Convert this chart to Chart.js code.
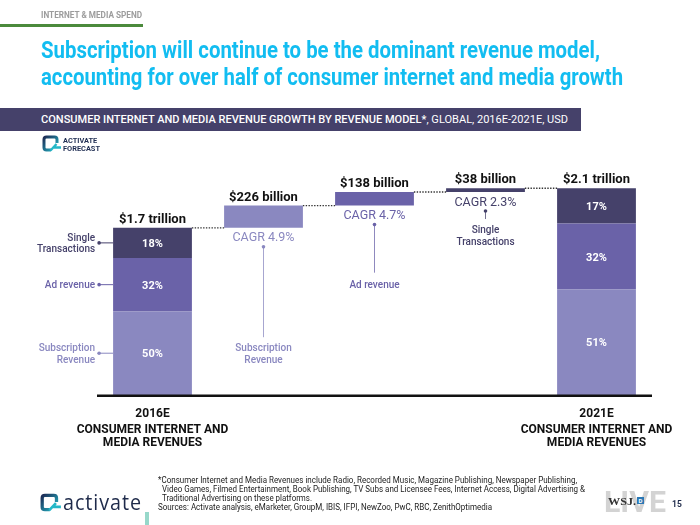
<!DOCTYPE html>
<html>
<head>
<meta charset="utf-8">
<script src="https://cdn.jsdelivr.net/npm/chart.js@4.4.1/dist/chart.umd.min.js"></script>
<style>
  html, body { margin: 0; padding: 0; background: #fff; }
  #page { position: relative; width: 700px; height: 525px; overflow: hidden; font-family: Roboto, sans-serif; }
  #wrap { position: absolute; left: 0; top: 0; width: 700px; height: 525px; }
  .abs { position: absolute; white-space: nowrap; transform-origin: 0 0; z-index: 2; }
  .foot { font: 400 8.4px Roboto; color: #222; line-height: 9px; }
</style>
</head>
<body>
<div id="page">
  <div id="wrap"><canvas id="waterfall"></canvas></div>

  <div class="abs fit" data-w="101" style="left:41px; top:10px; font:700 9px Roboto; color:#9c9c9c;">INTERNET &amp; MEDIA SPEND</div>
  <div class="abs" style="left:0; top:24px; width:143px; height:2.5px; background:#4b8a3c;"></div>

  <div class="abs fit" data-w="559" style="left:41px; top:36px; font:700 24px Roboto; color:#12bdf1;">Subscription will continue to be the dominant revenue model,</div>
  <div class="abs fit" data-w="582" style="left:41px; top:63px; font:700 24px Roboto; color:#12bdf1;">accounting for over half of consumer internet and media growth</div>

  <div class="abs" style="left:0; top:108px; width:581px; height:23px; background:#45416a; z-index:1;"></div>
  <div class="abs fit" data-w="527" style="left:41px; top:113px; font:11px Roboto; color:#fff;"><span style="font-weight:500">CONSUMER INTERNET AND MEDIA REVENUE GROWTH BY REVENUE MODEL*</span>, GLOBAL, 2016E-2021E, USD</div>

  <svg class="abs" style="left:42px; top:135px;" width="20" height="17" viewBox="0 0 20 17">
    <defs><linearGradient id="g1" x1="0" y1="0" x2="1" y2="1"><stop offset="0" stop-color="#1d2b55"/><stop offset="1" stop-color="#23b8c8"/></linearGradient></defs>
    <path d="M9 15 H4.5 Q2 15 2 12.5 V4.5 Q2 2 4.5 2 H12.5 Q15 2 15 4.5 V8" fill="none" stroke="url(#g1)" stroke-width="3"/>
    <path d="M8.5 15.5 L14.5 9 M12 12.5 H19" stroke="#23b8c8" stroke-width="2.4" fill="none"/>
  </svg>
  <div class="abs fit" data-w="37" style="left:63px; top:137px; font:700 7.5px Roboto; color:#1f2d52; line-height:8px;">ACTIVATE<br>FORECAST</div>

  <div class="abs foot fit" data-w="419" style="left:158px; top:476px;">*Consumer Internet and Media Revenues include Radio, Recorded Music, Magazine Publishing, Newspaper Publishing,</div>
  <div class="abs foot fit" data-w="423" style="left:162px; top:485px;">Video Games, Filmed Entertainment, Book Publishing, TV Subs and Licensee Fees, Internet Access, Digital Advertising &amp;</div>
  <div class="abs foot fit" data-w="150" style="left:162px; top:494px;">Traditional Advertising on these platforms.</div>
  <div class="abs foot fit" data-w="334" style="left:158px; top:503px;">Sources: Activate analysis, eMarketer, GroupM, IBIS, IFPI, NewZoo, PwC, RBC, ZenithOptimedia</div>

  <svg class="abs" style="left:40px; top:493px;" width="22" height="19" viewBox="0 0 20 17">
    <defs><linearGradient id="g2" x1="0" y1="0" x2="1" y2="1"><stop offset="0" stop-color="#1d2b55"/><stop offset="1" stop-color="#23b8c8"/></linearGradient></defs>
    <path d="M9 15 H4.5 Q2 15 2 12.5 V4.5 Q2 2 4.5 2 H12.5 Q15 2 15 4.5 V8" fill="none" stroke="url(#g2)" stroke-width="3"/>
    <path d="M8.5 15.5 L14.5 9 M12 12.5 H19" stroke="#23b8c8" stroke-width="2.4" fill="none"/>
  </svg>
  <div class="abs fit" data-w="79" style="left:63px; top:488px; font:400 21px 'Open Sans'; color:#1e2a4a; letter-spacing:1px;">activate</div>
  <div class="abs" style="left:145px; top:512px; width:3.5px; height:13px; background:#97d8ca;"></div>

  <div class="abs fit" data-w="62" style="left:604px; top:485px; font:700 29px Roboto; color:#d3d3d3;">LIVE</div>
  <div class="abs fit" data-w="28" style="left:608px; top:495px; font:700 11px 'Liberation Serif'; color:#333;">WSJ.</div>
  <div class="abs" style="left:637px; top:497px; width:7px; height:7px; background:#2b78b5; color:#fff; font:700 6px Roboto; line-height:7px; text-align:center;">D</div>
  <div class="abs" style="left:672px; top:499px; font:700 8.5px Roboto; color:#1e2a4a;">15</div>
</div>

<script>
// USD billions
const categories = ['2016E', 'Subscription', 'Ad revenue', 'Single Transactions', '2021E'];
const models = ['Subscription Revenue', 'Ad revenue', 'Single Transactions'];
const modelLines = [['Subscription', 'Revenue'], ['Ad revenue'], ['Single', 'Transactions']];
const share2016 = [50, 32, 18];
const share2021 = [51, 32, 17];
const total2016 = 1700;
const growth = [226, 138, 38];
const cagr = ['4.9', '4.7', '2.3'];
const totalLabels = ['$1.7 trillion', '$226 billion', '$138 billion', '$38 billion', '$2.1 trillion'];
const captionLines = ['CONSUMER INTERNET AND', 'MEDIA REVENUES'];
const colors = ['#8a88c0', '#6a62a8', '#45416a'];

const total2021 = total2016 + growth.reduce((s, v) => s + v, 0);

let base16 = 0, base21 = 0, run = total2016;
const datasets = models.map((name, k) => {
  const v16 = total2016 * share2016[k] / 100;
  const v21 = total2021 * share2021[k] / 100;
  const data = [[base16, base16 + v16], null, null, null, [base21, base21 + v21]];
  data[k + 1] = [run, run + growth[k]];
  base16 += v16; base21 += v21; run += growth[k];
  return { label: name, data, backgroundColor: colors[k] };
});

function txt(ctx, s, x, y, font, color, align) {
  ctx.font = font;
  ctx.fillStyle = color;
  ctx.textAlign = align || 'center';
  ctx.textBaseline = 'alphabetic';
  ctx.fillText(s, x, y);
}

function dot(ctx, x, y, color) {
  ctx.beginPath();
  ctx.arc(x, y, 1.8, 0, Math.PI * 2);
  ctx.fillStyle = color;
  ctx.fill();
}

function lines(ctx, arr, x, c, color, align) {
  const f = '500 10px Roboto';
  if (arr.length === 1) {
    txt(ctx, arr[0], x, c + 3.5, f, color, align);
  } else {
    txt(ctx, arr[0], x, c - 2, f, color, align);
    txt(ctx, arr[1], x, c + 9.5, f, color, align);
  }
}

const annotate = {
  id: 'annotate',
  afterDatasetsDraw(chart) {
    const { ctx, chartArea: a, scales: { y } } = chart;
    const el = (d, i) => chart.getDatasetMeta(d).data[i];
    const bar = i => {
      const els = datasets.map((ds, d) => ds.data[i] ? el(d, i) : null).filter(Boolean);
      return {
        x: els[0].x, w: els[0].width,
        top: Math.min(...els.map(e => e.y)),
        bottom: Math.max(...els.map(e => e.base))
      };
    };
    const y0 = y.getPixelForValue(0);
    ctx.save();

    // axis line
    ctx.fillStyle = '#111';
    ctx.fillRect(a.left, y0 - 0.5, a.right - a.left, 2.5);

    // dotted connectors
    ctx.setLineDash([1.4, 1.4]);
    ctx.strokeStyle = '#333';
    ctx.lineWidth = 1.4;
    for (let i = 0; i < categories.length - 1; i++) {
      const b = bar(i), n = bar(i + 1);
      ctx.beginPath();
      ctx.moveTo(b.x + b.w / 2, b.top);
      ctx.lineTo(n.x - n.w / 2, b.top);
      ctx.stroke();
    }
    ctx.setLineDash([]);

    // totals above bars
    categories.forEach((c, i) => {
      const b = bar(i);
      txt(ctx, totalLabels[i], b.x, b.top - 5, 'bold 13px Roboto', '#111');
    });

    // shares inside start / end bars
    [[0, share2016], [categories.length - 1, share2021]].forEach(([i, sh]) => {
      models.forEach((m, k) => {
        const e = el(k, i);
        txt(ctx, sh[k] + '%', e.x, (e.y + e.base) / 2 + 4, 'bold 11px Roboto', '#fff');
      });
    });

    // labels left of the 2016 bar
    const segMid = models.map((m, k) => { const e = el(k, 0); return (e.y + e.base) / 2; });
    models.forEach((m, k) => {
      const e = el(k, 0), left = e.x - e.width / 2;
      ctx.strokeStyle = colors[k];
      ctx.lineWidth = 1;
      ctx.beginPath();
      ctx.moveTo(left - 14, segMid[k]);
      ctx.lineTo(left, segMid[k]);
      ctx.stroke();
      dot(ctx, left - 14, segMid[k], colors[k]);
      lines(ctx, modelLines[k], left - 18, segMid[k], colors[k], 'right');
    });

    // growth bars: CAGR and pointers
    growth.forEach((g, k) => {
      const e = el(k, k + 1);
      txt(ctx, 'CAGR ' + cagr[k] + '%', e.x, e.base + 13.5, '12.5px Roboto', colors[k]);
      const dy = e.base + 19;
      const c = k < 2 ? segMid[k] : dy + 24;
      const end = c - (modelLines[k].length === 2 ? 16 : 12);
      ctx.strokeStyle = colors[k];
      ctx.globalAlpha = 0.75;
      ctx.lineWidth = 1;
      ctx.beginPath();
      ctx.moveTo(e.x, dy);
      ctx.lineTo(e.x, end);
      ctx.stroke();
      ctx.globalAlpha = 1;
      dot(ctx, e.x, dy, colors[k]);
      lines(ctx, modelLines[k], e.x, c, colors[k], 'center');
    });

    // category captions below axis
    [0, categories.length - 1].forEach(i => {
      const b = bar(i);
      txt(ctx, categories[i], b.x, y0 + 21.5, 'bold 12px Roboto', '#111');
      txt(ctx, captionLines[0], b.x, y0 + 37.5, 'bold 12px Roboto', '#111');
      txt(ctx, captionLines[1], b.x, y0 + 50.5, 'bold 12px Roboto', '#111');
    });
    ctx.restore();
  }
};

new Chart(document.getElementById('waterfall'), {
  type: 'bar',
  data: { labels: categories, datasets },
  options: {
    responsive: true,
    maintainAspectRatio: false,
    animation: false,
    layout: { padding: { left: 97, right: 48, top: 159, bottom: 130 } },
    datasets: { bar: { grouped: false, categoryPercentage: 1, barPercentage: 0.71, borderWidth: 0 } },
    scales: {
      x: { display: false },
      y: { display: false, min: 0, max: 2400 }
    },
    plugins: { legend: { display: false }, tooltip: { enabled: false } }
  },
  plugins: [annotate]
});

document.querySelectorAll('.fit').forEach(el => {
  const w = el.getBoundingClientRect().width;
  el.style.transform = 'scaleX(' + (el.dataset.w / w) + ')';
});
</script>
</body>
</html>
